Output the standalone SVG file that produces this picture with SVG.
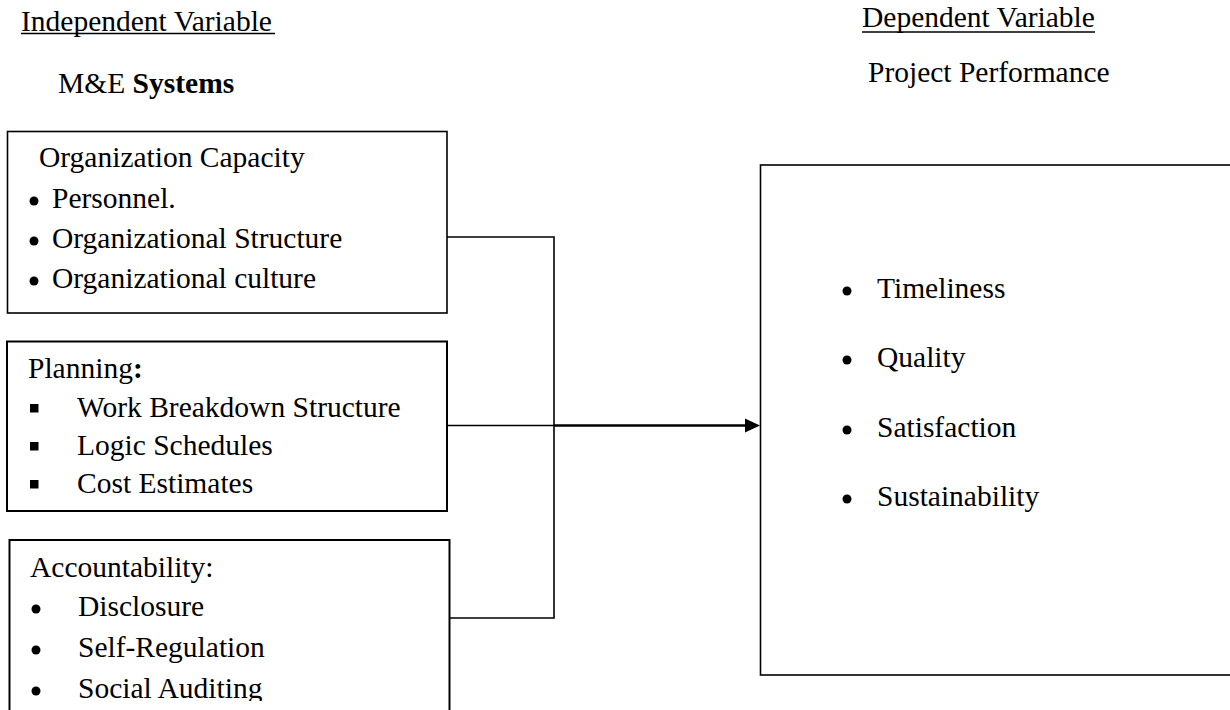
<svg xmlns="http://www.w3.org/2000/svg" width="1230" height="710" viewBox="0 0 1230 710">
<style>
text{font-family:"Liberation Serif","Times New Roman",serif;font-size:29.5px;fill:#000}
.b{font-weight:bold}
.box{fill:none;stroke:#000;stroke-width:1.6}
.box2{fill:none;stroke:#000;stroke-width:2}
.ul{stroke:#000;stroke-width:1.5}
.thin{fill:none;stroke:#000;stroke-width:1.6}
.thick{fill:none;stroke:#000;stroke-width:2.6}
</style>
<defs>
<clipPath id="clipBottom"><rect x="0" y="0" width="1230" height="701"/></clipPath>
</defs>
<rect width="1230" height="710" fill="#fff"/>
<g id="headers">
<text x="21" y="31">Independent Variable</text>
<line class="ul" x1="21" y1="33.5" x2="275" y2="33.5"/>
<text x="58" y="93">M&amp;E <tspan class="b">Systems</tspan></text>
<text x="862" y="27">Dependent Variable</text>
<line class="ul" x1="862" y1="32" x2="1095" y2="32"/>
<text x="868" y="81.5">Project Performance</text>
</g>
<g id="org-capacity">
<rect class="box" x="7.5" y="131.5" width="439.5" height="181.5"/>
<text x="39" y="167">Organization Capacity</text>
<circle cx="34" cy="201" r="4.5"/>
<circle cx="34" cy="241" r="4.5"/>
<circle cx="34" cy="281" r="4.5"/>
<text x="52" y="208">Personnel.</text>
<text x="52" y="248">Organizational Structure</text>
<text x="52" y="288">Organizational culture</text>
</g>
<g id="planning">
<rect class="box2" x="7" y="341.5" width="440" height="169.5"/>
<text x="28" y="378">Planning<tspan class="b">:</tspan></text>
<rect x="30" y="404" width="8.5" height="8.5"/>
<rect x="30" y="442" width="8.5" height="8.5"/>
<rect x="30" y="480" width="8.5" height="8.5"/>
<text x="77" y="417">Work Breakdown Structure</text>
<text x="77" y="455">Logic Schedules</text>
<text x="77" y="493">Cost Estimates</text>
</g>
<g id="accountability">
<rect class="box2" x="9.5" y="540" width="440" height="200"/>
<text x="30" y="577">Accountability:</text>
<circle cx="36" cy="609" r="4.5"/>
<circle cx="36" cy="650" r="4.5"/>
<circle cx="36" cy="691" r="4.5"/>
<text x="78" y="616">Disclosure</text>
<text x="78" y="657">Self-Regulation</text>
<text x="78" y="698" clip-path="url(#clipBottom)">Social Auditing</text>
</g>
<g id="performance">
<rect class="box" x="760.5" y="165" width="520" height="510"/>
<circle cx="847" cy="291" r="4.5"/>
<circle cx="847" cy="360" r="4.5"/>
<circle cx="847" cy="430" r="4.5"/>
<circle cx="847" cy="499" r="4.5"/>
<text x="877" y="298">Timeliness</text>
<text x="877" y="367">Quality</text>
<text x="877" y="437">Satisfaction</text>
<text x="877" y="506">Sustainability</text>
</g>
<g id="connectors">
<polyline class="thin" points="447,237 554,237 554,618 449.5,618"/>
<line class="thin" x1="447" y1="425.5" x2="554" y2="425.5"/>
<line class="thick" x1="554" y1="425.5" x2="746" y2="425.5"/>
<polygon points="745,418.5 760,425.5 745,432.5" fill="#000"/>
</g>
</svg>
